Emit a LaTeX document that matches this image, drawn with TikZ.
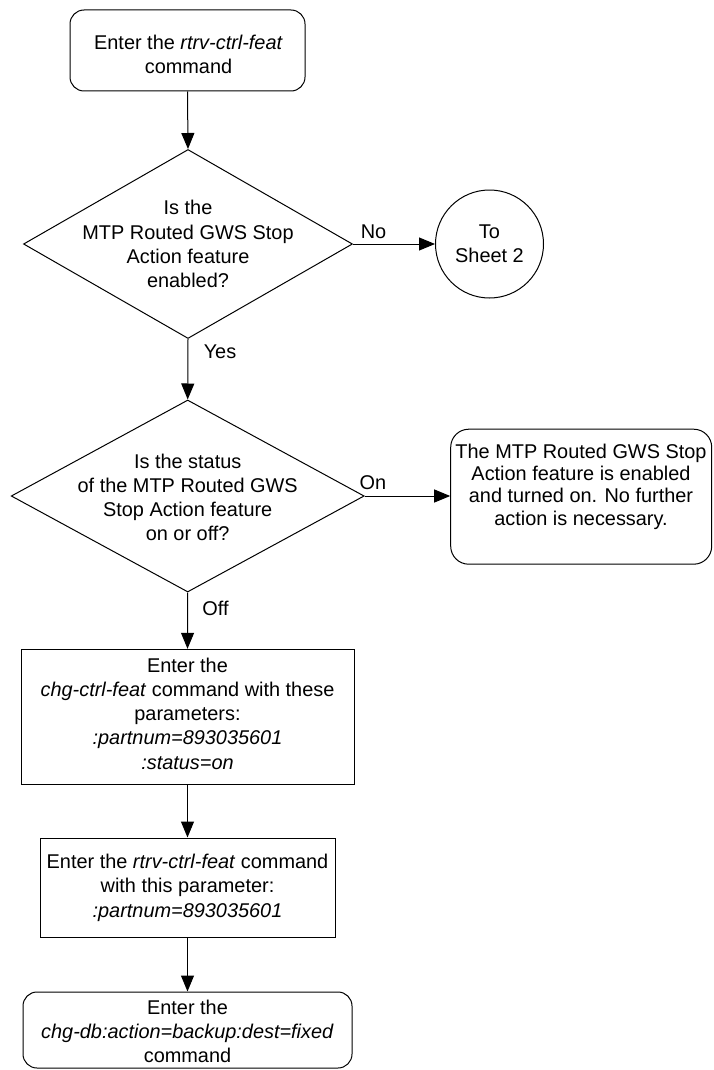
\documentclass[tikz,border=0pt]{standalone}
\usepackage{fontspec}
\setmainfont{Liberation Sans}
\usetikzlibrary{shapes.geometric,arrows.meta}
\begin{document}
\begin{tikzpicture}[x=1pt,y=-1pt,
  every node/.style={font=\fontsize{19.9}{24.2}\selectfont, inner sep=0pt},
  shp/.style={draw, line width=1pt},
  rbox/.style={shp, rectangle, rounded corners=14pt},
  sbox/.style={shp, rectangle},
  dia/.style={shp, diamond},
  txt/.style={align=center},
  lbl/.style={},
  arr/.style={draw, line width=1pt, -{Triangle[length=16pt,width=13pt]}}
]
\useasboundingbox (0,0) rectangle (713,1070);

% shapes
\node[rbox, minimum width=235pt, minimum height=81pt] (top) at (187.5,50.5) {};
\node[dia, minimum width=329pt, minimum height=189pt] (d1) at (188,244) {};
\node[shp, circle, minimum size=108pt] (c1) at (489.5,244) {};
\node[dia, minimum width=353pt, minimum height=192pt] (d2) at (187.7,496) {};
\node[rbox, minimum width=261pt, minimum height=135pt, rounded corners=18pt] (r1) at (581.2,496.7) {};
\node[sbox, minimum width=333pt, minimum height=135pt] (b3) at (187.5,716.8) {};
\node[sbox, minimum width=295pt, minimum height=99pt] (b4) at (187.5,887.5) {};
\node[rbox, minimum width=329pt, minimum height=76pt] (b5) at (187.5,1030) {};

% texts
\node[txt] (ttop) at (188.5,54.2) {Enter the \textit{rtrv-ctrl-feat}\\command};
\node[txt] (td1) at (188,244) {Is the\\MTP Routed GWS Stop\\Action feature\\enabled?};
\node[txt] (tc1) at (489.5,244) {To\\Sheet 2};
\node[txt] (td2) at (187.7,497.5) {Is the status\\of the MTP Routed GWS\\Stop Action feature\\on or off?};
\node[txt, font=\fontsize{19.9}{22.3}\selectfont] (tr1) at (581,486.5) {The MTP Routed GWS Stop\\Action feature is enabled\\and turned on. No further\\action is necessary.};
\node[txt] (tb3) at (187.5,713.6) {Enter the\\\textit{chg-ctrl-feat} command with these\\parameters:\\\textit{:partnum=893035601}\\\textit{:status=on}};
\node[txt] (tb4) at (187.5,887.7) {Enter the \textit{rtrv-ctrl-feat} command\\with this parameter:\\\textit{:partnum=893035601}};
\node[txt] (tb5) at (187.5,1031.5) {Enter the\\\textit{chg-db:action=backup:dest=fixed}\\command};

% labels
\node[lbl] (lno) at (373.5,231.7) {No};
\node[lbl] (lyes) at (220,351.7) {Yes};
\node[lbl] (lon) at (373,483) {On};
\node[lbl] (loff) at (215.5,608) {Off};

% connectors
\draw[arr] (top.south) -- (d1.north);
\draw[arr] (d1.east) -- (c1.west);
\draw[arr] (d1.south) -- (d2.north);
\draw[arr] (d2.east) -- (d2.east -| r1.west);
\draw[arr] (d2.south) -- (b3.north);
\draw[arr] (b3.south) -- (b4.north);
\draw[arr] (b4.south) -- (b5.north);
\end{tikzpicture}
\end{document}
